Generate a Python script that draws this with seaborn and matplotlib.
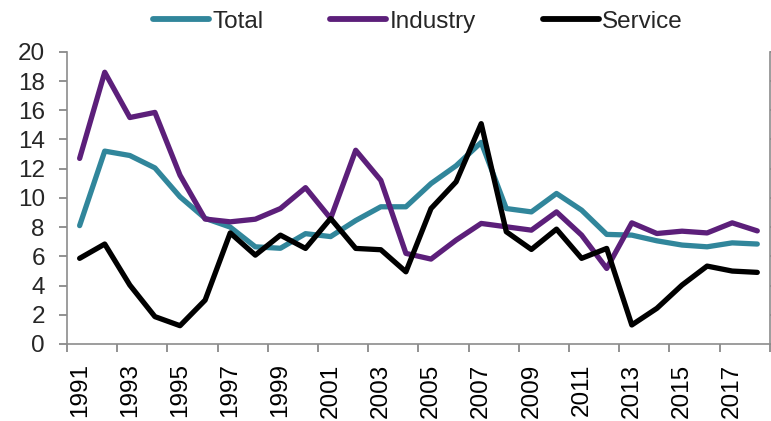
import numpy as np
import pandas as pd
import matplotlib
matplotlib.use("Agg")
import matplotlib.pyplot as plt
import seaborn as sns

years = list(range(1991, 2019))
total = [8.1, 13.2, 12.9, 12.05, 10.07, 8.6, 8.0, 6.65, 6.55, 7.55, 7.35, 8.45, 9.39, 9.39,
         10.98, 12.2, 13.8, 9.27, 9.04, 10.3, 9.16, 7.5, 7.45, 7.06, 6.77, 6.65, 6.92, 6.84]
industry = [12.7, 18.6, 15.5, 15.85, 11.55, 8.55, 8.36, 8.54, 9.27, 10.7, 8.59, 13.26, 11.2, 6.2,
            5.81, 7.11, 8.25, 8.02, 7.79, 9.04, 7.45, 5.17, 8.29, 7.56, 7.72, 7.6, 8.29, 7.74]
service = [5.86, 6.84, 4.03, 1.87, 1.25, 3.0, 7.6, 6.08, 7.45, 6.54, 8.59, 6.54, 6.45, 4.94,
           9.27, 11.1, 15.08, 7.68, 6.47, 7.86, 5.86, 6.54, 1.3, 2.44, 4.03, 5.33, 4.99, 4.9]
series_names = ["Total", "Industry", "Service"]
colors = ["#31869B", "#5C1F7A", "#000000"]

df = pd.DataFrame({"idx": list(range(len(years))) * 3,
                   "value": total + industry + service,
                   "series": [s for s in series_names for _ in years]})

sns.set_theme(style="white")
plt.rcParams["font.family"] = ["Liberation Sans", "DejaVu Sans"]

FS = 17.5
fig = plt.figure(figsize=(7.71, 4.21), dpi=100)
ax = fig.add_axes([0.087, 0.183, 0.9115, 0.694])
sns.lineplot(data=df, x="idx", y="value", hue="series", palette=colors,
             hue_order=series_names, linewidth=3.8, ax=ax, legend=True)

n = len(years)
ax.set_xlim(-0.5, n - 0.5)
ax.set_ylim(0, 20)
ax.set_yticks(np.arange(0, 21, 2))
ax.set_xticks(range(0, n, 2))
ax.set_xticklabels([str(y) for y in years[::2]], rotation=90)
ax.set_xticks(np.arange(-0.5, n, 2), minor=True)
ax.tick_params(axis="x", which="major", length=0, labelsize=FS, pad=14, colors="black")
ax.tick_params(axis="x", which="minor", length=6, width=1.2, color="#7f7f7f", bottom=True)
ax.tick_params(axis="y", which="major", length=6, width=1.2, color="#7f7f7f", labelsize=FS,
               pad=10, left=True, right=True, labelright=False, direction="out")
for s in ax.spines.values():
    s.set_color("#8c8c8c")
    s.set_linewidth(1.2)
ax.spines["top"].set_visible(False)
ax.set_xlabel("")
ax.set_ylabel("")

h, l = ax.get_legend_handles_labels()
leg = ax.legend(h, l, loc="center", bbox_to_anchor=(0.542, 0.948), bbox_transform=fig.transFigure,
                ncol=3, frameon=False, fontsize=FS, handlelength=2.3, handletextpad=0.15,
                columnspacing=2.75, borderaxespad=0, borderpad=0)
for line in leg.get_lines():
    line.set_linewidth(4.2)
    line.set_solid_capstyle("round")

fig.savefig("out.png", dpi=100)
